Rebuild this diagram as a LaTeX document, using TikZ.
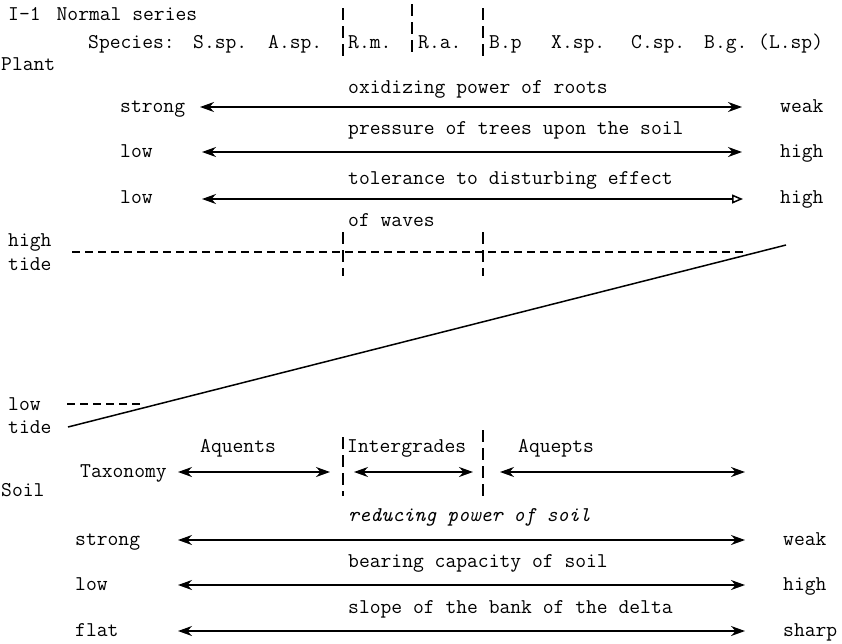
\documentclass[tikz,border=0pt]{standalone}
\usepackage{fontspec}
\usetikzlibrary{arrows.meta}
\tikzset{
  lbl/.style={anchor=base west, inner sep=0pt, font=\fontsize{21}{24}\selectfont\ttfamily},
  gradient/.style={<->, line width=1.5pt},
  sepline/.style={line width=1.1pt, dash pattern=on 12pt off 6pt},
  tideline/.style={line width=1.1pt, dash pattern=on 8pt off 5pt},
}
\begin{document}
\begin{tikzpicture}[x=1pt, y=-1pt, >={Stealth[length=14pt,width=10pt]}]
\useasboundingbox (0,0) rectangle (842,643);
% 1) heading and the species of the series
\node[lbl] (ttl) at (8,20) {I-1\hspace{16pt}Normal series};
\node[lbl] (spc) at (88,48) {Species:};
\node[lbl] (ssp) at (193,48) {S.sp.};
\node[lbl] (asp) at (268,48) {A.sp.};
\node[lbl] (rm)  at (348,48) {R.m.};
\node[lbl] (ra)  at (418,48) {R.a.};
\node[lbl] (bp)  at (489,48) {B.p};
\node[lbl] (xsp) at (551,48) {X.sp.};
\node[lbl] (csp) at (631,48) {C.sp.};
\node[lbl] (bg)  at (704,48) {B.g.};
\node[lbl] (lsp) at (758,48) {(L.sp)};
\draw[sepline] (343,8) -- (343,58);
\draw[sepline] (412,4) -- (412,56);
\draw[sepline] (483,8) -- (483,58);
% 2) plant gradients
\node[lbl] (plant) at (1,70) {Plant};
\node[lbl] (oxi) at (348,93) {oxidizing power of roots};
\node[lbl] (oxiL) at (120,112) {strong};
\node[lbl] (oxiR) at (780,112) {weak};
\coordinate (oxiA) at (200,107);
\coordinate (oxiB) at (742,107);
\draw[gradient] (oxiA) -- (oxiB);
\node[lbl] (prs) at (348,134) {pressure of trees upon the soil};
\node[lbl] (prsL) at (120,157) {low};
\node[lbl] (prsR) at (780,157) {high};
\coordinate (prsA) at (202,152);
\coordinate (prsB) at (742,152);
\draw[gradient] (prsA) -- (prsB);
\node[lbl] (tol) at (348,184) {tolerance to disturbing effect};
\node[lbl] (tolL) at (120,203) {low};
\node[lbl] (tolR) at (780,203) {high};
\coordinate (tolA) at (202,199);
\coordinate (tolB) at (743,199);
\draw[gradient, {Stealth[length=14pt,width=10pt]}-{Triangle[open,length=11pt,width=9pt]}] (tolA) -- (tolB);
\node[lbl] (wav) at (348,226) {of waves};
% 3) tide levels and the bank of the delta
\node[lbl] (hi) at (8,246) {high};
\node[lbl] (hit) at (8,270) {tide};
\coordinate (hiA) at (72,252);
\coordinate (hiB) at (745,252);
\draw[tideline] (hiA) -- (hiB);
\draw[sepline] (343,232) -- (343,276);
\draw[sepline] (483,232) -- (483,276);
\node[lbl] (lo) at (8,410) {low};
\node[lbl] (lot) at (8,433) {tide};
\coordinate (loA) at (67,404);
\coordinate (loB) at (142,404);
\draw[tideline] (loA) -- (loB);
\coordinate (bankA) at (68,427);
\coordinate (bankB) at (786,245);
\draw[line width=1.5pt] (bankA) -- (bankB);
% 4) soil taxonomy
\draw[sepline] (343,437) -- (343,496);
\draw[sepline] (483,430) -- (483,497);
\node[lbl] (aqn) at (200,452) {Aquents};
\node[lbl] (itg) at (347,452) {Intergrades};
\node[lbl] (aqp) at (518,452) {Aquepts};
\node[lbl] (tax) at (80,477) {Taxonomy};
\coordinate (aqnA) at (178,472);
\coordinate (aqnB) at (330,472);
\coordinate (itgA) at (354,472);
\coordinate (itgB) at (473,472);
\coordinate (aqpA) at (500,472);
\coordinate (aqpB) at (745,472);
\draw[gradient] (aqnA) -- (aqnB);
\draw[gradient] (itgA) -- (itgB);
\draw[gradient] (aqpA) -- (aqpB);
% 5) soil gradients
\node[lbl] (soil) at (1,496) {Soil};
\node[lbl, font=\fontsize{21}{24}\selectfont\ttfamily\itshape] (red) at (348,521) {reducing power of soil};
\node[lbl] (redL) at (75,545) {strong};
\node[lbl] (redR) at (783,545) {weak};
\coordinate (redA) at (178,540);
\coordinate (redB) at (745,540);
\draw[gradient] (redA) -- (redB);
\node[lbl] (bea) at (348,567) {bearing capacity of soil};
\node[lbl] (beaL) at (75,590) {low};
\node[lbl] (beaR) at (783,590) {high};
\coordinate (beaA) at (178,585);
\coordinate (beaB) at (745,585);
\draw[gradient] (beaA) -- (beaB);
\node[lbl] (slp) at (348,613) {slope of the bank of the delta};
\node[lbl] (slpL) at (75,636) {flat};
\node[lbl] (slpR) at (783,636) {sharp};
\coordinate (slpA) at (178,631);
\coordinate (slpB) at (745,631);
\draw[gradient] (slpA) -- (slpB);
\end{tikzpicture}
\end{document}
